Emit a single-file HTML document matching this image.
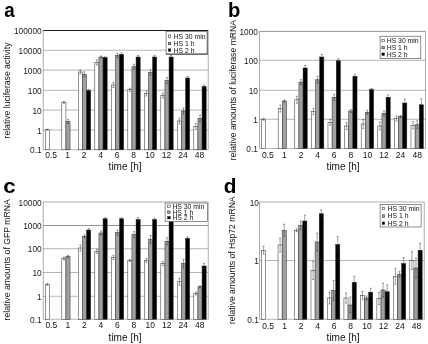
<!DOCTYPE html>
<html><head><meta charset="utf-8"><style>
html,body{margin:0;padding:0;background:#fff;}
svg{display:block;opacity:0.999;will-change:transform}
</style></head><body>
<svg width="428" height="344" viewBox="0 0 428 344">
<rect width="428" height="344" fill="#fff"/>
<line x1="43.25" y1="30.5" x2="208.25" y2="30.5" stroke="#1a1a1a" stroke-width="1.0"/>
<line x1="43.25" y1="50.25" x2="208.25" y2="50.25" stroke="#6a6a6a" stroke-width="0.5"/>
<line x1="43.25" y1="70.1" x2="208.25" y2="70.1" stroke="#6a6a6a" stroke-width="0.5"/>
<line x1="43.25" y1="90.25" x2="208.25" y2="90.25" stroke="#6a6a6a" stroke-width="0.5"/>
<line x1="43.25" y1="110.1" x2="208.25" y2="110.1" stroke="#6a6a6a" stroke-width="0.5"/>
<line x1="43.25" y1="130" x2="208.25" y2="130" stroke="#6a6a6a" stroke-width="0.5"/>
<line x1="43.25" y1="149.75" x2="208.25" y2="149.75" stroke="#6a6a6a" stroke-width="0.5"/>
<line x1="43.25" y1="30.5" x2="43.25" y2="149.75" stroke="#555" stroke-width="0.5"/>
<line x1="208.25" y1="30.5" x2="208.25" y2="149.75" stroke="#8a8a8a" stroke-width="0.7"/>
<rect x="45.31" y="129.75" width="4.12" height="20.00" fill="#ffffff" stroke="#2a2a2a" stroke-width="0.5"/>
<rect x="61.81" y="102.25" width="4.12" height="47.50" fill="#ffffff" stroke="#2a2a2a" stroke-width="0.5"/>
<rect x="65.94" y="121.5" width="4.12" height="28.25" fill="#a0a0a0" stroke="#2a2a2a" stroke-width="0.5"/>
<rect x="78.31" y="72" width="4.12" height="77.75" fill="#ffffff" stroke="#2a2a2a" stroke-width="0.5"/>
<rect x="82.44" y="74.25" width="4.12" height="75.50" fill="#a0a0a0" stroke="#2a2a2a" stroke-width="0.5"/>
<rect x="86.56" y="90.5" width="4.12" height="59.25" fill="#000000" stroke="#2a2a2a" stroke-width="0.5"/>
<rect x="94.81" y="62.5" width="4.12" height="87.25" fill="#ffffff" stroke="#2a2a2a" stroke-width="0.5"/>
<rect x="98.94" y="57" width="4.12" height="92.75" fill="#a0a0a0" stroke="#2a2a2a" stroke-width="0.5"/>
<rect x="103.06" y="57.5" width="4.12" height="92.25" fill="#000000" stroke="#2a2a2a" stroke-width="0.5"/>
<rect x="111.31" y="85" width="4.12" height="64.75" fill="#ffffff" stroke="#2a2a2a" stroke-width="0.5"/>
<rect x="115.44" y="55.5" width="4.12" height="94.25" fill="#a0a0a0" stroke="#2a2a2a" stroke-width="0.5"/>
<rect x="119.56" y="54.25" width="4.12" height="95.50" fill="#000000" stroke="#2a2a2a" stroke-width="0.5"/>
<rect x="127.81" y="89.75" width="4.12" height="60.00" fill="#ffffff" stroke="#2a2a2a" stroke-width="0.5"/>
<rect x="131.94" y="66.75" width="4.12" height="83.00" fill="#a0a0a0" stroke="#2a2a2a" stroke-width="0.5"/>
<rect x="136.06" y="57" width="4.12" height="92.75" fill="#000000" stroke="#2a2a2a" stroke-width="0.5"/>
<rect x="144.31" y="93.5" width="4.12" height="56.25" fill="#ffffff" stroke="#2a2a2a" stroke-width="0.5"/>
<rect x="148.44" y="72.5" width="4.12" height="77.25" fill="#a0a0a0" stroke="#2a2a2a" stroke-width="0.5"/>
<rect x="152.56" y="57" width="4.12" height="92.75" fill="#000000" stroke="#2a2a2a" stroke-width="0.5"/>
<rect x="160.81" y="95.5" width="4.12" height="54.25" fill="#ffffff" stroke="#2a2a2a" stroke-width="0.5"/>
<rect x="164.94" y="80.5" width="4.12" height="69.25" fill="#a0a0a0" stroke="#2a2a2a" stroke-width="0.5"/>
<rect x="169.06" y="57" width="4.12" height="92.75" fill="#000000" stroke="#2a2a2a" stroke-width="0.5"/>
<rect x="177.31" y="121" width="4.12" height="28.75" fill="#ffffff" stroke="#2a2a2a" stroke-width="0.5"/>
<rect x="181.44" y="111" width="4.12" height="38.75" fill="#a0a0a0" stroke="#2a2a2a" stroke-width="0.5"/>
<rect x="185.56" y="78" width="4.12" height="71.75" fill="#000000" stroke="#2a2a2a" stroke-width="0.5"/>
<rect x="193.81" y="126.5" width="4.12" height="23.25" fill="#ffffff" stroke="#2a2a2a" stroke-width="0.5"/>
<rect x="197.94" y="118.5" width="4.12" height="31.25" fill="#a0a0a0" stroke="#2a2a2a" stroke-width="0.5"/>
<rect x="202.06" y="86.5" width="4.12" height="63.25" fill="#000000" stroke="#2a2a2a" stroke-width="0.5"/>
<path d="M47.38 129.25V130.25M46.38 129.25h2M46.38 130.25h2" stroke="#2a2a2a" stroke-width="0.45" fill="none"/>
<path d="M63.88 101.25V103.25M62.88 101.25h2M62.88 103.25h2" stroke="#2a2a2a" stroke-width="0.45" fill="none"/>
<path d="M68.00 119.5V123.5M67.00 119.5h2M67.00 123.5h2" stroke="#2a2a2a" stroke-width="0.45" fill="none"/>
<path d="M80.38 70V74M79.38 70h2M79.38 74h2" stroke="#2a2a2a" stroke-width="0.45" fill="none"/>
<path d="M84.50 71.75V76.75M83.50 71.75h2M83.50 76.75h2" stroke="#2a2a2a" stroke-width="0.45" fill="none"/>
<path d="M88.62 89.5V91.5M87.62 89.5h2M87.62 91.5h2" stroke="#2a2a2a" stroke-width="0.45" fill="none"/>
<path d="M96.88 60.0V65.0M95.88 60.0h2M95.88 65.0h2" stroke="#2a2a2a" stroke-width="0.45" fill="none"/>
<path d="M101.00 56V58M100.00 56h2M100.00 58h2" stroke="#2a2a2a" stroke-width="0.45" fill="none"/>
<path d="M105.12 56.7V58.3M104.12 56.7h2M104.12 58.3h2" stroke="#2a2a2a" stroke-width="0.45" fill="none"/>
<path d="M113.38 82.5V87.5M112.38 82.5h2M112.38 87.5h2" stroke="#2a2a2a" stroke-width="0.45" fill="none"/>
<path d="M117.50 53.5V57.5M116.50 53.5h2M116.50 57.5h2" stroke="#2a2a2a" stroke-width="0.45" fill="none"/>
<path d="M121.62 52.75V55.75M120.62 52.75h2M120.62 55.75h2" stroke="#2a2a2a" stroke-width="0.45" fill="none"/>
<path d="M129.88 88.25V91.25M128.88 88.25h2M128.88 91.25h2" stroke="#2a2a2a" stroke-width="0.45" fill="none"/>
<path d="M134.00 64.25V69.25M133.00 64.25h2M133.00 69.25h2" stroke="#2a2a2a" stroke-width="0.45" fill="none"/>
<path d="M138.12 55.5V58.5M137.12 55.5h2M137.12 58.5h2" stroke="#2a2a2a" stroke-width="0.45" fill="none"/>
<path d="M146.38 91.0V96.0M145.38 91.0h2M145.38 96.0h2" stroke="#2a2a2a" stroke-width="0.45" fill="none"/>
<path d="M150.50 70.0V75.0M149.50 70.0h2M149.50 75.0h2" stroke="#2a2a2a" stroke-width="0.45" fill="none"/>
<path d="M154.62 55.5V58.5M153.62 55.5h2M153.62 58.5h2" stroke="#2a2a2a" stroke-width="0.45" fill="none"/>
<path d="M162.88 93.0V98.0M161.88 93.0h2M161.88 98.0h2" stroke="#2a2a2a" stroke-width="0.45" fill="none"/>
<path d="M167.00 77.5V83.5M166.00 77.5h2M166.00 83.5h2" stroke="#2a2a2a" stroke-width="0.45" fill="none"/>
<path d="M171.12 55.5V58.5M170.12 55.5h2M170.12 58.5h2" stroke="#2a2a2a" stroke-width="0.45" fill="none"/>
<path d="M179.38 118V124M178.38 118h2M178.38 124h2" stroke="#2a2a2a" stroke-width="0.45" fill="none"/>
<path d="M183.50 108V114M182.50 108h2M182.50 114h2" stroke="#2a2a2a" stroke-width="0.45" fill="none"/>
<path d="M187.62 76.5V79.5M186.62 76.5h2M186.62 79.5h2" stroke="#2a2a2a" stroke-width="0.45" fill="none"/>
<path d="M195.88 123.5V129.5M194.88 123.5h2M194.88 129.5h2" stroke="#2a2a2a" stroke-width="0.45" fill="none"/>
<path d="M200.00 115.0V122.0M199.00 115.0h2M199.00 122.0h2" stroke="#2a2a2a" stroke-width="0.45" fill="none"/>
<path d="M204.12 85.0V88.0M203.12 85.0h2M203.12 88.0h2" stroke="#2a2a2a" stroke-width="0.45" fill="none"/>
<text transform="translate(41.65 34.05) scale(0.955 1)" font-size="8.7" text-anchor="end" font-family="Liberation Sans, sans-serif" fill="#1a1a1a">100000</text>
<text transform="translate(41.65 53.8) scale(0.955 1)" font-size="8.7" text-anchor="end" font-family="Liberation Sans, sans-serif" fill="#1a1a1a">10000</text>
<text transform="translate(41.65 73.64999999999999) scale(0.955 1)" font-size="8.7" text-anchor="end" font-family="Liberation Sans, sans-serif" fill="#1a1a1a">1000</text>
<text transform="translate(41.65 93.8) scale(0.955 1)" font-size="8.7" text-anchor="end" font-family="Liberation Sans, sans-serif" fill="#1a1a1a">100</text>
<text transform="translate(41.65 113.64999999999999) scale(0.955 1)" font-size="8.7" text-anchor="end" font-family="Liberation Sans, sans-serif" fill="#1a1a1a">10</text>
<text transform="translate(41.65 133.55) scale(0.955 1)" font-size="8.7" text-anchor="end" font-family="Liberation Sans, sans-serif" fill="#1a1a1a">1</text>
<text transform="translate(41.65 153.3) scale(0.955 1)" font-size="8.7" text-anchor="end" font-family="Liberation Sans, sans-serif" fill="#1a1a1a">0.1</text>
<text x="51.10" y="157.8" font-size="8.5" text-anchor="middle" font-family="Liberation Sans, sans-serif" fill="#111">0.5</text>
<text x="67.60" y="157.8" font-size="8.5" text-anchor="middle" font-family="Liberation Sans, sans-serif" fill="#111">1</text>
<text x="84.10" y="157.8" font-size="8.5" text-anchor="middle" font-family="Liberation Sans, sans-serif" fill="#111">2</text>
<text x="100.60" y="157.8" font-size="8.5" text-anchor="middle" font-family="Liberation Sans, sans-serif" fill="#111">4</text>
<text x="117.10" y="157.8" font-size="8.5" text-anchor="middle" font-family="Liberation Sans, sans-serif" fill="#111">6</text>
<text x="133.60" y="157.8" font-size="8.5" text-anchor="middle" font-family="Liberation Sans, sans-serif" fill="#111">8</text>
<text x="150.10" y="157.8" font-size="8.5" text-anchor="middle" font-family="Liberation Sans, sans-serif" fill="#111">10</text>
<text x="166.60" y="157.8" font-size="8.5" text-anchor="middle" font-family="Liberation Sans, sans-serif" fill="#111">12</text>
<text x="183.10" y="157.8" font-size="8.5" text-anchor="middle" font-family="Liberation Sans, sans-serif" fill="#111">24</text>
<text x="199.60" y="157.8" font-size="8.5" text-anchor="middle" font-family="Liberation Sans, sans-serif" fill="#111">48</text>
<text x="125.1" y="169.89999999999998" font-size="10" text-anchor="middle" textLength="33" lengthAdjust="spacingAndGlyphs" font-family="Liberation Sans, sans-serif" fill="#111">time [h]</text>
<text transform="translate(10.0 90.5) rotate(-90)" font-size="8.65" text-anchor="middle" textLength="96" lengthAdjust="spacingAndGlyphs" font-family="Liberation Sans, sans-serif" fill="#111">relative luciferase activity</text>
<text transform="translate(4.2 16.5) scale(0.94 1)" font-size="20" font-weight="bold" font-family="Liberation Sans, sans-serif" fill="#000">a</text>
<rect x="166.1" y="31.4" width="41.5" height="22.700000000000003" fill="#fff" stroke="#444" stroke-width="0.6"/>
<line x1="207.29999999999998" y1="31.4" x2="207.29999999999998" y2="54.1" stroke="#777" stroke-width="1.3"/>
<line x1="166.1" y1="54.1" x2="207.6" y2="54.1" stroke="#222" stroke-width="0.8"/>
<rect x="168.3" y="34.95" width="2.5" height="2.5" fill="#ffffff" stroke="#222" stroke-width="0.5"/>
<text x="173.6" y="38.650000000000006" font-size="6.85" font-family="Liberation Sans, sans-serif" fill="#111">HS 30 min</text>
<rect x="168.3" y="42.25" width="2.5" height="2.5" fill="#a0a0a0" stroke="#222" stroke-width="0.5"/>
<text x="173.6" y="45.95" font-size="6.85" font-family="Liberation Sans, sans-serif" fill="#111">HS 1 h</text>
<rect x="168.3" y="48.85" width="2.5" height="2.5" fill="#000000" stroke="#222" stroke-width="0.5"/>
<text x="173.6" y="52.550000000000004" font-size="6.85" font-family="Liberation Sans, sans-serif" fill="#111">HS 2 h</text>
<line x1="259.5" y1="31.4" x2="425.5" y2="31.4" stroke="#666" stroke-width="0.7"/>
<line x1="259.5" y1="60.3" x2="425.5" y2="60.3" stroke="#6a6a6a" stroke-width="0.5"/>
<line x1="259.5" y1="90.25" x2="425.5" y2="90.25" stroke="#6a6a6a" stroke-width="0.5"/>
<line x1="259.5" y1="119.25" x2="425.5" y2="119.25" stroke="#6a6a6a" stroke-width="0.5"/>
<line x1="259.5" y1="148.5" x2="425.5" y2="148.5" stroke="#6a6a6a" stroke-width="0.5"/>
<line x1="259.5" y1="31.5" x2="259.5" y2="148.5" stroke="#555" stroke-width="0.5"/>
<line x1="425.5" y1="31.5" x2="425.5" y2="148.5" stroke="#8a8a8a" stroke-width="0.7"/>
<rect x="261.57" y="119.25" width="4.15" height="29.25" fill="#ffffff" stroke="#2a2a2a" stroke-width="0.5"/>
<rect x="278.18" y="108.5" width="4.15" height="40.00" fill="#ffffff" stroke="#2a2a2a" stroke-width="0.5"/>
<rect x="282.32" y="101" width="4.15" height="47.50" fill="#a0a0a0" stroke="#2a2a2a" stroke-width="0.5"/>
<rect x="294.77" y="99.75" width="4.15" height="48.75" fill="#ffffff" stroke="#2a2a2a" stroke-width="0.5"/>
<rect x="298.92" y="82.1" width="4.15" height="66.40" fill="#a0a0a0" stroke="#2a2a2a" stroke-width="0.5"/>
<rect x="303.07" y="68" width="4.15" height="80.50" fill="#000000" stroke="#2a2a2a" stroke-width="0.5"/>
<rect x="311.38" y="111.5" width="4.15" height="37.00" fill="#ffffff" stroke="#2a2a2a" stroke-width="0.5"/>
<rect x="315.52" y="79.8" width="4.15" height="68.70" fill="#a0a0a0" stroke="#2a2a2a" stroke-width="0.5"/>
<rect x="319.68" y="57" width="4.15" height="91.50" fill="#000000" stroke="#2a2a2a" stroke-width="0.5"/>
<rect x="327.97" y="122.25" width="4.15" height="26.25" fill="#ffffff" stroke="#2a2a2a" stroke-width="0.5"/>
<rect x="332.12" y="97.25" width="4.15" height="51.25" fill="#a0a0a0" stroke="#2a2a2a" stroke-width="0.5"/>
<rect x="336.27" y="60.75" width="4.15" height="87.75" fill="#000000" stroke="#2a2a2a" stroke-width="0.5"/>
<rect x="344.57" y="126" width="4.15" height="22.50" fill="#ffffff" stroke="#2a2a2a" stroke-width="0.5"/>
<rect x="348.72" y="111" width="4.15" height="37.50" fill="#a0a0a0" stroke="#2a2a2a" stroke-width="0.5"/>
<rect x="352.88" y="76.25" width="4.15" height="72.25" fill="#000000" stroke="#2a2a2a" stroke-width="0.5"/>
<rect x="361.18" y="124" width="4.15" height="24.50" fill="#ffffff" stroke="#2a2a2a" stroke-width="0.5"/>
<rect x="365.32" y="112.25" width="4.15" height="36.25" fill="#a0a0a0" stroke="#2a2a2a" stroke-width="0.5"/>
<rect x="369.48" y="89.5" width="4.15" height="59.00" fill="#000000" stroke="#2a2a2a" stroke-width="0.5"/>
<rect x="377.78" y="126" width="4.15" height="22.50" fill="#ffffff" stroke="#2a2a2a" stroke-width="0.5"/>
<rect x="381.93" y="113.5" width="4.15" height="35.00" fill="#a0a0a0" stroke="#2a2a2a" stroke-width="0.5"/>
<rect x="386.08" y="97.25" width="4.15" height="51.25" fill="#000000" stroke="#2a2a2a" stroke-width="0.5"/>
<rect x="394.38" y="118.5" width="4.15" height="30.00" fill="#ffffff" stroke="#2a2a2a" stroke-width="0.5"/>
<rect x="398.52" y="116.5" width="4.15" height="32.00" fill="#a0a0a0" stroke="#2a2a2a" stroke-width="0.5"/>
<rect x="402.68" y="103" width="4.15" height="45.50" fill="#000000" stroke="#2a2a2a" stroke-width="0.5"/>
<rect x="410.97" y="125.25" width="4.15" height="23.25" fill="#ffffff" stroke="#2a2a2a" stroke-width="0.5"/>
<rect x="415.12" y="124.75" width="4.15" height="23.75" fill="#a0a0a0" stroke="#2a2a2a" stroke-width="0.5"/>
<rect x="419.27" y="104.75" width="4.15" height="43.75" fill="#000000" stroke="#2a2a2a" stroke-width="0.5"/>
<path d="M263.65 118.25V120.25M262.65 118.25h2M262.65 120.25h2" stroke="#2a2a2a" stroke-width="0.45" fill="none"/>
<path d="M280.25 105.0V112.0M279.25 105.0h2M279.25 112.0h2" stroke="#2a2a2a" stroke-width="0.45" fill="none"/>
<path d="M284.40 100V102M283.40 100h2M283.40 102h2" stroke="#2a2a2a" stroke-width="0.45" fill="none"/>
<path d="M296.85 96.25V103.25M295.85 96.25h2M295.85 103.25h2" stroke="#2a2a2a" stroke-width="0.45" fill="none"/>
<path d="M301.00 79.6V84.6M300.00 79.6h2M300.00 84.6h2" stroke="#2a2a2a" stroke-width="0.45" fill="none"/>
<path d="M305.15 65.5V70.5M304.15 65.5h2M304.15 70.5h2" stroke="#2a2a2a" stroke-width="0.45" fill="none"/>
<path d="M313.45 108.5V114.5M312.45 108.5h2M312.45 114.5h2" stroke="#2a2a2a" stroke-width="0.45" fill="none"/>
<path d="M317.60 76.3V83.3M316.60 76.3h2M316.60 83.3h2" stroke="#2a2a2a" stroke-width="0.45" fill="none"/>
<path d="M321.75 54.5V59.5M320.75 54.5h2M320.75 59.5h2" stroke="#2a2a2a" stroke-width="0.45" fill="none"/>
<path d="M330.05 119.25V125.25M329.05 119.25h2M329.05 125.25h2" stroke="#2a2a2a" stroke-width="0.45" fill="none"/>
<path d="M334.20 94.25V100.25M333.20 94.25h2M333.20 100.25h2" stroke="#2a2a2a" stroke-width="0.45" fill="none"/>
<path d="M338.35 58.75V62.75M337.35 58.75h2M337.35 62.75h2" stroke="#2a2a2a" stroke-width="0.45" fill="none"/>
<path d="M346.65 122.5V129.5M345.65 122.5h2M345.65 129.5h2" stroke="#2a2a2a" stroke-width="0.45" fill="none"/>
<path d="M350.80 109.5V112.5M349.80 109.5h2M349.80 112.5h2" stroke="#2a2a2a" stroke-width="0.45" fill="none"/>
<path d="M354.95 74.25V78.25M353.95 74.25h2M353.95 78.25h2" stroke="#2a2a2a" stroke-width="0.45" fill="none"/>
<path d="M363.25 119.5V128.5M362.25 119.5h2M362.25 128.5h2" stroke="#2a2a2a" stroke-width="0.45" fill="none"/>
<path d="M367.40 110.25V114.25M366.40 110.25h2M366.40 114.25h2" stroke="#2a2a2a" stroke-width="0.45" fill="none"/>
<path d="M371.55 88.5V90.5M370.55 88.5h2M370.55 90.5h2" stroke="#2a2a2a" stroke-width="0.45" fill="none"/>
<path d="M379.85 122V130M378.85 122h2M378.85 130h2" stroke="#2a2a2a" stroke-width="0.45" fill="none"/>
<path d="M384.00 111.0V116.0M383.00 111.0h2M383.00 116.0h2" stroke="#2a2a2a" stroke-width="0.45" fill="none"/>
<path d="M388.15 94.75V99.75M387.15 94.75h2M387.15 99.75h2" stroke="#2a2a2a" stroke-width="0.45" fill="none"/>
<path d="M396.45 116.0V121.0M395.45 116.0h2M395.45 121.0h2" stroke="#2a2a2a" stroke-width="0.45" fill="none"/>
<path d="M400.60 115.5V117.5M399.60 115.5h2M399.60 117.5h2" stroke="#2a2a2a" stroke-width="0.45" fill="none"/>
<path d="M404.75 99V107M403.75 99h2M403.75 107h2" stroke="#2a2a2a" stroke-width="0.45" fill="none"/>
<path d="M413.05 121.75V128.75M412.05 121.75h2M412.05 128.75h2" stroke="#2a2a2a" stroke-width="0.45" fill="none"/>
<path d="M417.20 120.75V128.75M416.20 120.75h2M416.20 128.75h2" stroke="#2a2a2a" stroke-width="0.45" fill="none"/>
<path d="M421.35 98.75V110.75M420.35 98.75h2M420.35 110.75h2" stroke="#2a2a2a" stroke-width="0.45" fill="none"/>
<text transform="translate(257.9 34.949999999999996) scale(0.955 1)" font-size="8.7" text-anchor="end" font-family="Liberation Sans, sans-serif" fill="#1a1a1a">1000</text>
<text transform="translate(257.9 63.849999999999994) scale(0.955 1)" font-size="8.7" text-anchor="end" font-family="Liberation Sans, sans-serif" fill="#1a1a1a">100</text>
<text transform="translate(257.9 93.8) scale(0.955 1)" font-size="8.7" text-anchor="end" font-family="Liberation Sans, sans-serif" fill="#1a1a1a">10</text>
<text transform="translate(257.9 122.8) scale(0.955 1)" font-size="8.7" text-anchor="end" font-family="Liberation Sans, sans-serif" fill="#1a1a1a">1</text>
<text transform="translate(257.9 152.05) scale(0.955 1)" font-size="8.7" text-anchor="end" font-family="Liberation Sans, sans-serif" fill="#1a1a1a">0.1</text>
<text x="267.80" y="157.8" font-size="8.5" text-anchor="middle" font-family="Liberation Sans, sans-serif" fill="#111">0.5</text>
<text x="284.40" y="157.8" font-size="8.5" text-anchor="middle" font-family="Liberation Sans, sans-serif" fill="#111">1</text>
<text x="301.00" y="157.8" font-size="8.5" text-anchor="middle" font-family="Liberation Sans, sans-serif" fill="#111">2</text>
<text x="317.60" y="157.8" font-size="8.5" text-anchor="middle" font-family="Liberation Sans, sans-serif" fill="#111">4</text>
<text x="334.20" y="157.8" font-size="8.5" text-anchor="middle" font-family="Liberation Sans, sans-serif" fill="#111">6</text>
<text x="350.80" y="157.8" font-size="8.5" text-anchor="middle" font-family="Liberation Sans, sans-serif" fill="#111">8</text>
<text x="367.40" y="157.8" font-size="8.5" text-anchor="middle" font-family="Liberation Sans, sans-serif" fill="#111">10</text>
<text x="384.00" y="157.8" font-size="8.5" text-anchor="middle" font-family="Liberation Sans, sans-serif" fill="#111">12</text>
<text x="400.60" y="157.8" font-size="8.5" text-anchor="middle" font-family="Liberation Sans, sans-serif" fill="#111">24</text>
<text x="417.20" y="157.8" font-size="8.5" text-anchor="middle" font-family="Liberation Sans, sans-serif" fill="#111">48</text>
<text x="343.1" y="170.1" font-size="10" text-anchor="middle" textLength="33" lengthAdjust="spacingAndGlyphs" font-family="Liberation Sans, sans-serif" fill="#111">time [h]</text>
<text transform="translate(236.05 90.1) rotate(-90)" font-size="8.65" text-anchor="middle" textLength="140.5" lengthAdjust="spacingAndGlyphs" font-family="Liberation Sans, sans-serif" fill="#111">relative amounts of luciferase mRNA</text>
<text transform="translate(228.0 16.65) scale(1.01 1)" font-size="20" font-weight="bold" font-family="Liberation Sans, sans-serif" fill="#000">b</text>
<rect x="380.1" y="36.2" width="40.69999999999999" height="22.5" fill="#fff" stroke="#444" stroke-width="0.6"/>
<rect x="381.9" y="39.35" width="2.5" height="2.5" fill="#ffffff" stroke="#222" stroke-width="0.5"/>
<text x="386.7" y="43.050000000000004" font-size="6.85" font-family="Liberation Sans, sans-serif" fill="#111">HS 30 min</text>
<rect x="381.9" y="46.35" width="2.5" height="2.5" fill="#a0a0a0" stroke="#222" stroke-width="0.5"/>
<text x="386.7" y="50.050000000000004" font-size="6.85" font-family="Liberation Sans, sans-serif" fill="#111">HS 1 h</text>
<rect x="381.9" y="52.95" width="2.5" height="2.5" fill="#000000" stroke="#222" stroke-width="0.5"/>
<text x="386.7" y="56.650000000000006" font-size="6.85" font-family="Liberation Sans, sans-serif" fill="#111">HS 2 h</text>
<line x1="43.25" y1="202" x2="208.25" y2="202" stroke="#8a8a8a" stroke-width="0.7"/>
<line x1="43.25" y1="225.5" x2="208.25" y2="225.5" stroke="#2a2a2a" stroke-width="0.5"/>
<line x1="43.25" y1="248.75" x2="208.25" y2="248.75" stroke="#6a6a6a" stroke-width="0.5"/>
<line x1="43.25" y1="272.5" x2="208.25" y2="272.5" stroke="#6a6a6a" stroke-width="0.5"/>
<line x1="43.25" y1="296.25" x2="208.25" y2="296.25" stroke="#6a6a6a" stroke-width="0.5"/>
<line x1="43.25" y1="319.25" x2="208.25" y2="319.25" stroke="#6a6a6a" stroke-width="0.5"/>
<line x1="43.25" y1="202" x2="43.25" y2="319.25" stroke="#555" stroke-width="0.5"/>
<line x1="208.25" y1="202" x2="208.25" y2="319.25" stroke="#8a8a8a" stroke-width="0.7"/>
<rect x="45.31" y="284.25" width="4.12" height="35.00" fill="#ffffff" stroke="#2a2a2a" stroke-width="0.5"/>
<rect x="61.81" y="258.5" width="4.12" height="60.75" fill="#ffffff" stroke="#2a2a2a" stroke-width="0.5"/>
<rect x="65.94" y="256.5" width="4.12" height="62.75" fill="#a0a0a0" stroke="#2a2a2a" stroke-width="0.5"/>
<rect x="78.31" y="248" width="4.12" height="71.25" fill="#ffffff" stroke="#2a2a2a" stroke-width="0.5"/>
<rect x="82.44" y="236.3" width="4.12" height="82.95" fill="#a0a0a0" stroke="#2a2a2a" stroke-width="0.5"/>
<rect x="86.56" y="230" width="4.12" height="89.25" fill="#000000" stroke="#2a2a2a" stroke-width="0.5"/>
<rect x="94.81" y="251.25" width="4.12" height="68.00" fill="#ffffff" stroke="#2a2a2a" stroke-width="0.5"/>
<rect x="98.94" y="233" width="4.12" height="86.25" fill="#a0a0a0" stroke="#2a2a2a" stroke-width="0.5"/>
<rect x="103.06" y="218.75" width="4.12" height="100.50" fill="#000000" stroke="#2a2a2a" stroke-width="0.5"/>
<rect x="111.31" y="257.4" width="4.12" height="61.85" fill="#ffffff" stroke="#2a2a2a" stroke-width="0.5"/>
<rect x="115.44" y="232.5" width="4.12" height="86.75" fill="#a0a0a0" stroke="#2a2a2a" stroke-width="0.5"/>
<rect x="119.56" y="218.75" width="4.12" height="100.50" fill="#000000" stroke="#2a2a2a" stroke-width="0.5"/>
<rect x="127.81" y="260.5" width="4.12" height="58.75" fill="#ffffff" stroke="#2a2a2a" stroke-width="0.5"/>
<rect x="131.94" y="234.5" width="4.12" height="84.75" fill="#a0a0a0" stroke="#2a2a2a" stroke-width="0.5"/>
<rect x="136.06" y="219.5" width="4.12" height="99.75" fill="#000000" stroke="#2a2a2a" stroke-width="0.5"/>
<rect x="144.31" y="260.5" width="4.12" height="58.75" fill="#ffffff" stroke="#2a2a2a" stroke-width="0.5"/>
<rect x="148.44" y="239.5" width="4.12" height="79.75" fill="#a0a0a0" stroke="#2a2a2a" stroke-width="0.5"/>
<rect x="152.56" y="219.5" width="4.12" height="99.75" fill="#000000" stroke="#2a2a2a" stroke-width="0.5"/>
<rect x="160.81" y="263.5" width="4.12" height="55.75" fill="#ffffff" stroke="#2a2a2a" stroke-width="0.5"/>
<rect x="164.94" y="241.25" width="4.12" height="78.00" fill="#a0a0a0" stroke="#2a2a2a" stroke-width="0.5"/>
<rect x="169.06" y="219.5" width="4.12" height="99.75" fill="#000000" stroke="#2a2a2a" stroke-width="0.5"/>
<rect x="177.31" y="281.75" width="4.12" height="37.50" fill="#ffffff" stroke="#2a2a2a" stroke-width="0.5"/>
<rect x="181.44" y="263.5" width="4.12" height="55.75" fill="#a0a0a0" stroke="#2a2a2a" stroke-width="0.5"/>
<rect x="185.56" y="238.25" width="4.12" height="81.00" fill="#000000" stroke="#2a2a2a" stroke-width="0.5"/>
<rect x="193.81" y="293.5" width="4.12" height="25.75" fill="#ffffff" stroke="#2a2a2a" stroke-width="0.5"/>
<rect x="197.94" y="286.75" width="4.12" height="32.50" fill="#a0a0a0" stroke="#2a2a2a" stroke-width="0.5"/>
<rect x="202.06" y="266" width="4.12" height="53.25" fill="#000000" stroke="#2a2a2a" stroke-width="0.5"/>
<path d="M47.38 283.25V285.25M46.38 283.25h2M46.38 285.25h2" stroke="#2a2a2a" stroke-width="0.45" fill="none"/>
<path d="M63.88 257.0V260.0M62.88 257.0h2M62.88 260.0h2" stroke="#2a2a2a" stroke-width="0.45" fill="none"/>
<path d="M68.00 255.5V257.5M67.00 255.5h2M67.00 257.5h2" stroke="#2a2a2a" stroke-width="0.45" fill="none"/>
<path d="M80.38 245V251M79.38 245h2M79.38 251h2" stroke="#2a2a2a" stroke-width="0.45" fill="none"/>
<path d="M84.50 234.8V237.8M83.50 234.8h2M83.50 237.8h2" stroke="#2a2a2a" stroke-width="0.45" fill="none"/>
<path d="M88.62 228.5V231.5M87.62 228.5h2M87.62 231.5h2" stroke="#2a2a2a" stroke-width="0.45" fill="none"/>
<path d="M96.88 249.25V253.25M95.88 249.25h2M95.88 253.25h2" stroke="#2a2a2a" stroke-width="0.45" fill="none"/>
<path d="M101.00 231V235M100.00 231h2M100.00 235h2" stroke="#2a2a2a" stroke-width="0.45" fill="none"/>
<path d="M105.12 217.75V219.75M104.12 217.75h2M104.12 219.75h2" stroke="#2a2a2a" stroke-width="0.45" fill="none"/>
<path d="M113.38 255.39999999999998V259.4M112.38 255.39999999999998h2M112.38 259.4h2" stroke="#2a2a2a" stroke-width="0.45" fill="none"/>
<path d="M117.50 230.0V235.0M116.50 230.0h2M116.50 235.0h2" stroke="#2a2a2a" stroke-width="0.45" fill="none"/>
<path d="M121.62 217.75V219.75M120.62 217.75h2M120.62 219.75h2" stroke="#2a2a2a" stroke-width="0.45" fill="none"/>
<path d="M129.88 259.5V261.5M128.88 259.5h2M128.88 261.5h2" stroke="#2a2a2a" stroke-width="0.45" fill="none"/>
<path d="M134.00 231.5V237.5M133.00 231.5h2M133.00 237.5h2" stroke="#2a2a2a" stroke-width="0.45" fill="none"/>
<path d="M138.12 217.5V221.5M137.12 217.5h2M137.12 221.5h2" stroke="#2a2a2a" stroke-width="0.45" fill="none"/>
<path d="M146.38 258.5V262.5M145.38 258.5h2M145.38 262.5h2" stroke="#2a2a2a" stroke-width="0.45" fill="none"/>
<path d="M150.50 235.5V243.5M149.50 235.5h2M149.50 243.5h2" stroke="#2a2a2a" stroke-width="0.45" fill="none"/>
<path d="M154.62 218.0V221.0M153.62 218.0h2M153.62 221.0h2" stroke="#2a2a2a" stroke-width="0.45" fill="none"/>
<path d="M162.88 261.5V265.5M161.88 261.5h2M161.88 265.5h2" stroke="#2a2a2a" stroke-width="0.45" fill="none"/>
<path d="M167.00 237.75V244.75M166.00 237.75h2M166.00 244.75h2" stroke="#2a2a2a" stroke-width="0.45" fill="none"/>
<path d="M171.12 218.5V220.5M170.12 218.5h2M170.12 220.5h2" stroke="#2a2a2a" stroke-width="0.45" fill="none"/>
<path d="M179.38 278.25V285.25M178.38 278.25h2M178.38 285.25h2" stroke="#2a2a2a" stroke-width="0.45" fill="none"/>
<path d="M183.50 259.0V268.0M182.50 259.0h2M182.50 268.0h2" stroke="#2a2a2a" stroke-width="0.45" fill="none"/>
<path d="M187.62 236.75V239.75M186.62 236.75h2M186.62 239.75h2" stroke="#2a2a2a" stroke-width="0.45" fill="none"/>
<path d="M195.88 292.0V295.0M194.88 292.0h2M194.88 295.0h2" stroke="#2a2a2a" stroke-width="0.45" fill="none"/>
<path d="M200.00 285.75V287.75M199.00 285.75h2M199.00 287.75h2" stroke="#2a2a2a" stroke-width="0.45" fill="none"/>
<path d="M204.12 263.5V268.5M203.12 263.5h2M203.12 268.5h2" stroke="#2a2a2a" stroke-width="0.45" fill="none"/>
<text transform="translate(41.65 205.55) scale(0.955 1)" font-size="8.7" text-anchor="end" font-family="Liberation Sans, sans-serif" fill="#1a1a1a">10000</text>
<text transform="translate(41.65 229.05) scale(0.955 1)" font-size="8.7" text-anchor="end" font-family="Liberation Sans, sans-serif" fill="#1a1a1a">1000</text>
<text transform="translate(41.65 252.3) scale(0.955 1)" font-size="8.7" text-anchor="end" font-family="Liberation Sans, sans-serif" fill="#1a1a1a">100</text>
<text transform="translate(41.65 276.05) scale(0.955 1)" font-size="8.7" text-anchor="end" font-family="Liberation Sans, sans-serif" fill="#1a1a1a">10</text>
<text transform="translate(41.65 299.8) scale(0.955 1)" font-size="8.7" text-anchor="end" font-family="Liberation Sans, sans-serif" fill="#1a1a1a">1</text>
<text transform="translate(41.65 322.8) scale(0.955 1)" font-size="8.7" text-anchor="end" font-family="Liberation Sans, sans-serif" fill="#1a1a1a">0.1</text>
<text x="51.30" y="327.5" font-size="8.5" text-anchor="middle" font-family="Liberation Sans, sans-serif" fill="#111">0.5</text>
<text x="67.80" y="327.5" font-size="8.5" text-anchor="middle" font-family="Liberation Sans, sans-serif" fill="#111">1</text>
<text x="84.30" y="327.5" font-size="8.5" text-anchor="middle" font-family="Liberation Sans, sans-serif" fill="#111">2</text>
<text x="100.80" y="327.5" font-size="8.5" text-anchor="middle" font-family="Liberation Sans, sans-serif" fill="#111">4</text>
<text x="117.30" y="327.5" font-size="8.5" text-anchor="middle" font-family="Liberation Sans, sans-serif" fill="#111">6</text>
<text x="133.80" y="327.5" font-size="8.5" text-anchor="middle" font-family="Liberation Sans, sans-serif" fill="#111">8</text>
<text x="150.30" y="327.5" font-size="8.5" text-anchor="middle" font-family="Liberation Sans, sans-serif" fill="#111">10</text>
<text x="166.80" y="327.5" font-size="8.5" text-anchor="middle" font-family="Liberation Sans, sans-serif" fill="#111">12</text>
<text x="183.30" y="327.5" font-size="8.5" text-anchor="middle" font-family="Liberation Sans, sans-serif" fill="#111">24</text>
<text x="199.80" y="327.5" font-size="8.5" text-anchor="middle" font-family="Liberation Sans, sans-serif" fill="#111">48</text>
<text x="125.1" y="340.8" font-size="10" text-anchor="middle" textLength="33" lengthAdjust="spacingAndGlyphs" font-family="Liberation Sans, sans-serif" fill="#111">time [h]</text>
<text transform="translate(10.2 259.8) rotate(-90)" font-size="8.65" text-anchor="middle" textLength="121.4" lengthAdjust="spacingAndGlyphs" font-family="Liberation Sans, sans-serif" fill="#111">relative amounts of GFP mRNA</text>
<text transform="translate(3.2 192.6) scale(1.115 1)" font-size="20" font-weight="bold" font-family="Liberation Sans, sans-serif" fill="#000">c</text>
<rect x="165.1" y="203" width="42.5" height="18.599999999999994" fill="#fff" stroke="#444" stroke-width="0.6"/>
<rect x="167.7" y="205.05" width="2.5" height="2.5" fill="#ffffff" stroke="#222" stroke-width="0.5"/>
<text x="172.4" y="208.75" font-size="6.85" font-family="Liberation Sans, sans-serif" fill="#111">HS 30 min</text>
<rect x="167.7" y="210.95" width="2.5" height="2.5" fill="#a0a0a0" stroke="#222" stroke-width="0.5"/>
<text x="172.4" y="214.64999999999998" font-size="6.85" font-family="Liberation Sans, sans-serif" fill="#111">HS 1 h</text>
<rect x="167.7" y="216.45" width="2.5" height="2.5" fill="#000000" stroke="#222" stroke-width="0.5"/>
<text x="172.4" y="220.14999999999998" font-size="6.85" font-family="Liberation Sans, sans-serif" fill="#111">HS 2 h</text>
<line x1="259.5" y1="202" x2="424.25" y2="202" stroke="#8a8a8a" stroke-width="0.7"/>
<line x1="259.5" y1="260.5" x2="424.25" y2="260.5" stroke="#6a6a6a" stroke-width="0.5"/>
<line x1="259.5" y1="319.25" x2="424.25" y2="319.25" stroke="#6a6a6a" stroke-width="0.5"/>
<line x1="259.5" y1="202" x2="259.5" y2="319.25" stroke="#555" stroke-width="0.5"/>
<line x1="424.25" y1="202" x2="424.25" y2="319.25" stroke="#8a8a8a" stroke-width="0.7"/>
<rect x="261.56" y="250.25" width="4.12" height="69.00" fill="#ffffff" stroke="#2a2a2a" stroke-width="0.5"/>
<rect x="278.03" y="245" width="4.12" height="74.25" fill="#ffffff" stroke="#2a2a2a" stroke-width="0.5"/>
<rect x="282.15" y="230.25" width="4.12" height="89.00" fill="#a0a0a0" stroke="#2a2a2a" stroke-width="0.5"/>
<rect x="294.51" y="230.25" width="4.12" height="89.00" fill="#ffffff" stroke="#2a2a2a" stroke-width="0.5"/>
<rect x="298.63" y="225.5" width="4.12" height="93.75" fill="#a0a0a0" stroke="#2a2a2a" stroke-width="0.5"/>
<rect x="302.75" y="221" width="4.12" height="98.25" fill="#000000" stroke="#2a2a2a" stroke-width="0.5"/>
<rect x="310.98" y="270.5" width="4.12" height="48.75" fill="#ffffff" stroke="#2a2a2a" stroke-width="0.5"/>
<rect x="315.10" y="242" width="4.12" height="77.25" fill="#a0a0a0" stroke="#2a2a2a" stroke-width="0.5"/>
<rect x="319.22" y="213.75" width="4.12" height="105.50" fill="#000000" stroke="#2a2a2a" stroke-width="0.5"/>
<rect x="327.46" y="298" width="4.12" height="21.25" fill="#ffffff" stroke="#2a2a2a" stroke-width="0.5"/>
<rect x="331.58" y="290.5" width="4.12" height="28.75" fill="#a0a0a0" stroke="#2a2a2a" stroke-width="0.5"/>
<rect x="335.70" y="244.5" width="4.12" height="74.75" fill="#000000" stroke="#2a2a2a" stroke-width="0.5"/>
<rect x="343.93" y="298" width="4.12" height="21.25" fill="#ffffff" stroke="#2a2a2a" stroke-width="0.5"/>
<rect x="348.05" y="305" width="4.12" height="14.25" fill="#a0a0a0" stroke="#2a2a2a" stroke-width="0.5"/>
<rect x="352.17" y="282.25" width="4.12" height="37.00" fill="#000000" stroke="#2a2a2a" stroke-width="0.5"/>
<rect x="360.41" y="295.5" width="4.12" height="23.75" fill="#ffffff" stroke="#2a2a2a" stroke-width="0.5"/>
<rect x="364.53" y="298" width="4.12" height="21.25" fill="#a0a0a0" stroke="#2a2a2a" stroke-width="0.5"/>
<rect x="368.65" y="292.25" width="4.12" height="27.00" fill="#000000" stroke="#2a2a2a" stroke-width="0.5"/>
<rect x="376.88" y="298.5" width="4.12" height="20.75" fill="#ffffff" stroke="#2a2a2a" stroke-width="0.5"/>
<rect x="381.00" y="290" width="4.12" height="29.25" fill="#a0a0a0" stroke="#2a2a2a" stroke-width="0.5"/>
<rect x="385.12" y="291.75" width="4.12" height="27.50" fill="#000000" stroke="#2a2a2a" stroke-width="0.5"/>
<rect x="393.36" y="276.25" width="4.12" height="43.00" fill="#ffffff" stroke="#2a2a2a" stroke-width="0.5"/>
<rect x="397.48" y="274.25" width="4.12" height="45.00" fill="#a0a0a0" stroke="#2a2a2a" stroke-width="0.5"/>
<rect x="401.60" y="263.5" width="4.12" height="55.75" fill="#000000" stroke="#2a2a2a" stroke-width="0.5"/>
<rect x="409.83" y="260.5" width="4.12" height="58.75" fill="#ffffff" stroke="#2a2a2a" stroke-width="0.5"/>
<rect x="413.95" y="268" width="4.12" height="51.25" fill="#a0a0a0" stroke="#2a2a2a" stroke-width="0.5"/>
<rect x="418.07" y="250.25" width="4.12" height="69.00" fill="#000000" stroke="#2a2a2a" stroke-width="0.5"/>
<path d="M263.62 246.25V254.25M262.62 246.25h2M262.62 254.25h2" stroke="#2a2a2a" stroke-width="0.45" fill="none"/>
<path d="M280.09 238V252M279.09 238h2M279.09 252h2" stroke="#2a2a2a" stroke-width="0.45" fill="none"/>
<path d="M284.21 224.25V236.25M283.21 224.25h2M283.21 236.25h2" stroke="#2a2a2a" stroke-width="0.45" fill="none"/>
<path d="M296.57 228.75V231.75M295.57 228.75h2M295.57 231.75h2" stroke="#2a2a2a" stroke-width="0.45" fill="none"/>
<path d="M300.69 221.0V230.0M299.69 221.0h2M299.69 230.0h2" stroke="#2a2a2a" stroke-width="0.45" fill="none"/>
<path d="M304.81 215V227M303.81 215h2M303.81 227h2" stroke="#2a2a2a" stroke-width="0.45" fill="none"/>
<path d="M313.04 261.5V279.5M312.04 261.5h2M312.04 279.5h2" stroke="#2a2a2a" stroke-width="0.45" fill="none"/>
<path d="M317.16 233V251M316.16 233h2M316.16 251h2" stroke="#2a2a2a" stroke-width="0.45" fill="none"/>
<path d="M321.28 209.75V217.75M320.28 209.75h2M320.28 217.75h2" stroke="#2a2a2a" stroke-width="0.45" fill="none"/>
<path d="M329.52 292V304M328.52 292h2M328.52 304h2" stroke="#2a2a2a" stroke-width="0.45" fill="none"/>
<path d="M333.64 280.5V300.5M332.64 280.5h2M332.64 300.5h2" stroke="#2a2a2a" stroke-width="0.45" fill="none"/>
<path d="M337.76 236.5V252.5M336.76 236.5h2M336.76 252.5h2" stroke="#2a2a2a" stroke-width="0.45" fill="none"/>
<path d="M345.99 293V303M344.99 293h2M344.99 303h2" stroke="#2a2a2a" stroke-width="0.45" fill="none"/>
<path d="M350.11 297V313M349.11 297h2M349.11 313h2" stroke="#2a2a2a" stroke-width="0.45" fill="none"/>
<path d="M354.23 276.25V288.25M353.23 276.25h2M353.23 288.25h2" stroke="#2a2a2a" stroke-width="0.45" fill="none"/>
<path d="M362.47 291.5V299.5M361.47 291.5h2M361.47 299.5h2" stroke="#2a2a2a" stroke-width="0.45" fill="none"/>
<path d="M366.59 296V300M365.59 296h2M365.59 300h2" stroke="#2a2a2a" stroke-width="0.45" fill="none"/>
<path d="M370.71 288.25V296.25M369.71 288.25h2M369.71 296.25h2" stroke="#2a2a2a" stroke-width="0.45" fill="none"/>
<path d="M378.94 292.5V304.5M377.94 292.5h2M377.94 304.5h2" stroke="#2a2a2a" stroke-width="0.45" fill="none"/>
<path d="M383.06 283V297M382.06 283h2M382.06 297h2" stroke="#2a2a2a" stroke-width="0.45" fill="none"/>
<path d="M387.18 284.75V298.75M386.18 284.75h2M386.18 298.75h2" stroke="#2a2a2a" stroke-width="0.45" fill="none"/>
<path d="M395.42 268.25V284.25M394.42 268.25h2M394.42 284.25h2" stroke="#2a2a2a" stroke-width="0.45" fill="none"/>
<path d="M399.54 271.25V277.25M398.54 271.25h2M398.54 277.25h2" stroke="#2a2a2a" stroke-width="0.45" fill="none"/>
<path d="M403.66 257.5V269.5M402.66 257.5h2M402.66 269.5h2" stroke="#2a2a2a" stroke-width="0.45" fill="none"/>
<path d="M411.89 251.5V269.5M410.89 251.5h2M410.89 269.5h2" stroke="#2a2a2a" stroke-width="0.45" fill="none"/>
<path d="M416.01 258V278M415.01 258h2M415.01 278h2" stroke="#2a2a2a" stroke-width="0.45" fill="none"/>
<path d="M420.13 243.25V257.25M419.13 243.25h2M419.13 257.25h2" stroke="#2a2a2a" stroke-width="0.45" fill="none"/>
<text transform="translate(258.9 205.55) scale(0.955 1)" font-size="8.7" text-anchor="end" font-family="Liberation Sans, sans-serif" fill="#1a1a1a">10</text>
<text transform="translate(258.9 264.05) scale(0.955 1)" font-size="8.7" text-anchor="end" font-family="Liberation Sans, sans-serif" fill="#1a1a1a">1</text>
<text transform="translate(258.9 322.8) scale(0.955 1)" font-size="8.7" text-anchor="end" font-family="Liberation Sans, sans-serif" fill="#1a1a1a">0.1</text>
<text x="268.14" y="328.5" font-size="8.5" text-anchor="middle" font-family="Liberation Sans, sans-serif" fill="#111">0.5</text>
<text x="284.61" y="328.5" font-size="8.5" text-anchor="middle" font-family="Liberation Sans, sans-serif" fill="#111">1</text>
<text x="301.09" y="328.5" font-size="8.5" text-anchor="middle" font-family="Liberation Sans, sans-serif" fill="#111">2</text>
<text x="317.56" y="328.5" font-size="8.5" text-anchor="middle" font-family="Liberation Sans, sans-serif" fill="#111">4</text>
<text x="334.04" y="328.5" font-size="8.5" text-anchor="middle" font-family="Liberation Sans, sans-serif" fill="#111">6</text>
<text x="350.51" y="328.5" font-size="8.5" text-anchor="middle" font-family="Liberation Sans, sans-serif" fill="#111">8</text>
<text x="366.99" y="328.5" font-size="8.5" text-anchor="middle" font-family="Liberation Sans, sans-serif" fill="#111">10</text>
<text x="383.46" y="328.5" font-size="8.5" text-anchor="middle" font-family="Liberation Sans, sans-serif" fill="#111">12</text>
<text x="399.94" y="328.5" font-size="8.5" text-anchor="middle" font-family="Liberation Sans, sans-serif" fill="#111">24</text>
<text x="416.41" y="328.5" font-size="8.5" text-anchor="middle" font-family="Liberation Sans, sans-serif" fill="#111">48</text>
<text x="343.1" y="341.09999999999997" font-size="10" text-anchor="middle" textLength="33" lengthAdjust="spacingAndGlyphs" font-family="Liberation Sans, sans-serif" fill="#111">time [h]</text>
<text transform="translate(234.7 260.2) rotate(-90)" font-size="8.65" text-anchor="middle" textLength="127.6" lengthAdjust="spacingAndGlyphs" font-family="Liberation Sans, sans-serif" fill="#111">relative amounts of Hsp72 mRNA</text>
<text transform="translate(223.7 192.6) scale(1.045 1)" font-size="19.9" font-weight="bold" font-family="Liberation Sans, sans-serif" fill="#000">d</text>
<rect x="380.1" y="204.3" width="41.0" height="22.69999999999999" fill="#fff" stroke="#444" stroke-width="0.6"/>
<rect x="382.2" y="207.25" width="2.5" height="2.5" fill="#ffffff" stroke="#222" stroke-width="0.5"/>
<text x="387.6" y="210.95" font-size="6.85" font-family="Liberation Sans, sans-serif" fill="#111">HS 30 min</text>
<rect x="382.2" y="214.75" width="2.5" height="2.5" fill="#a0a0a0" stroke="#222" stroke-width="0.5"/>
<text x="387.6" y="218.45" font-size="6.85" font-family="Liberation Sans, sans-serif" fill="#111">HS 1 h</text>
<rect x="382.2" y="221.95" width="2.5" height="2.5" fill="#000000" stroke="#222" stroke-width="0.5"/>
<text x="387.6" y="225.64999999999998" font-size="6.85" font-family="Liberation Sans, sans-serif" fill="#111">HS 2 h</text>
</svg>
</body></html>
